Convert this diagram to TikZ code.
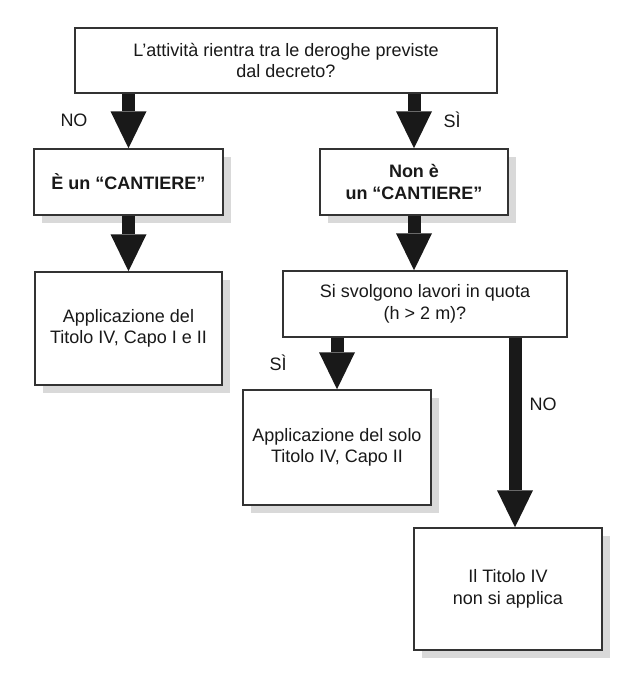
\documentclass[tikz,border=0pt]{standalone}
\usepackage{fontspec}
\setmainfont{Liberation Sans}
\usetikzlibrary{arrows.meta, shadows}

\tikzset{
  box/.style={draw=black!80, line width=1.5pt, fill=white, align=center,
    inner sep=4pt, text=black!90, font=\fontsize{18}{21.5}\selectfont},
  shadowbox/.style={box, drop shadow={shadow xshift=8pt, shadow yshift=-8pt,
    fill=black!15, opacity=1}},
  bigarrow/.style={line width=13pt, draw=black!90,
    -{Triangle[width=36pt, length=37pt, line width=0pt]}},
  answer/.style={text=black!90, font=\fontsize{18}{21.5}\selectfont}
}

\begin{document}
\begin{tikzpicture}[x=1pt, y=-1pt]

  \useasboundingbox (0,0) rectangle (640,685);

  % First question
  \node[box, minimum width=422pt, minimum height=65pt] (deroghe) at (286,60.5)
    {L’attività rientra tra le deroghe previste\\dal decreto?};

  % Cantiere / non cantiere
  \node[shadowbox, minimum width=189pt, minimum height=66pt] (cantiere) at (128.5,182)
    {\bfseries È un “CANTIERE”};
  \node[shadowbox, minimum width=188pt, minimum height=66pt] (noncantiere) at (414,182)
    {\bfseries Non è\\\bfseries un “CANTIERE”};

  % Left branch result
  \node[shadowbox, minimum width=187pt, minimum height=113pt] (capoI) at (128.5,328.5)
    {Applicazione del\\Titolo IV, Capo I e II};

  % Second question
  \node[box, minimum width=284pt, minimum height=66pt] (quota) at (425,304)
    {Si svolgono lavori in quota\\(h > 2 m)?};

  % Right branch results
  \node[shadowbox, minimum width=188pt, minimum height=115pt] (capoII) at (337,447.5)
    {Applicazione del solo\\Titolo IV, Capo II};
  \node[shadowbox, minimum width=188pt, minimum height=122pt] (nonsi) at (508,589)
    {Il Titolo IV\\non si applica};
  \coordinate (nonsiin) at ([xshift=7pt]nonsi.north);

  % Arrows
  \draw[bigarrow] (deroghe.south -| cantiere) -- (cantiere.north);
  \draw[bigarrow] (deroghe.south -| noncantiere) -- (noncantiere.north);
  \draw[bigarrow] (cantiere.south) -- (capoI.north);
  \draw[bigarrow] (noncantiere.south) -- (noncantiere.south |- quota.north);
  \draw[bigarrow] (quota.south -| capoII) -- (capoII.north);
  \draw[bigarrow] (quota.south -| nonsiin) -- (nonsiin);

  % Answers
  \node[answer] (no1) at (74,120) {NO};
  \node[answer] (si1) at (452,120) {SÌ};
  \node[answer] (si2) at (278,363) {SÌ};
  \node[answer] (no2) at (543,404) {NO};

\end{tikzpicture}
\end{document}
